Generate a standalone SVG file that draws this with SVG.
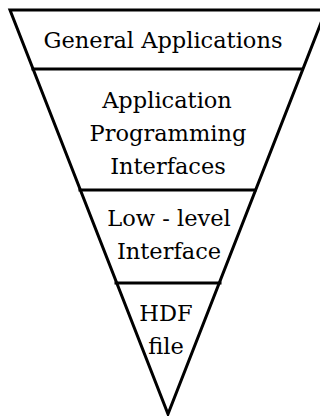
<svg xmlns="http://www.w3.org/2000/svg" width="320" height="416" viewBox="0 0 320 416">
<style>
.t{font-family:'DejaVu Serif','Liberation Serif',serif;font-size:22.5px;fill:#000;text-anchor:middle}
.e{stroke:#000;stroke-width:3;fill:none;stroke-linecap:square}
</style>
<rect width="320" height="416" fill="#fff"/>
<g id="connectors">
<path class="e" d="M10,10 L326,10 L168,414 Z" stroke-linejoin="miter"/>
<line class="e" x1="33" y1="69" x2="302" y2="69"/>
<line class="e" x1="80" y1="190" x2="255" y2="190"/>
<line class="e" x1="116" y1="283" x2="220" y2="283"/>
</g>
<g id="general"><text class="t" x="163" y="48">General Applications</text></g>
<g id="api"><text class="t" x="167" y="108">Application</text><text class="t" x="168" y="141">Programming</text><text class="t" x="168" y="174">Interfaces</text></g>
<g id="lowlevel"><text class="t" x="169" y="226">Low - level</text><text class="t" x="169" y="259">Interface</text></g>
<g id="hdf"><text class="t" x="166" y="321">HDF</text><text class="t" x="166" y="354">file</text></g>
</svg>
